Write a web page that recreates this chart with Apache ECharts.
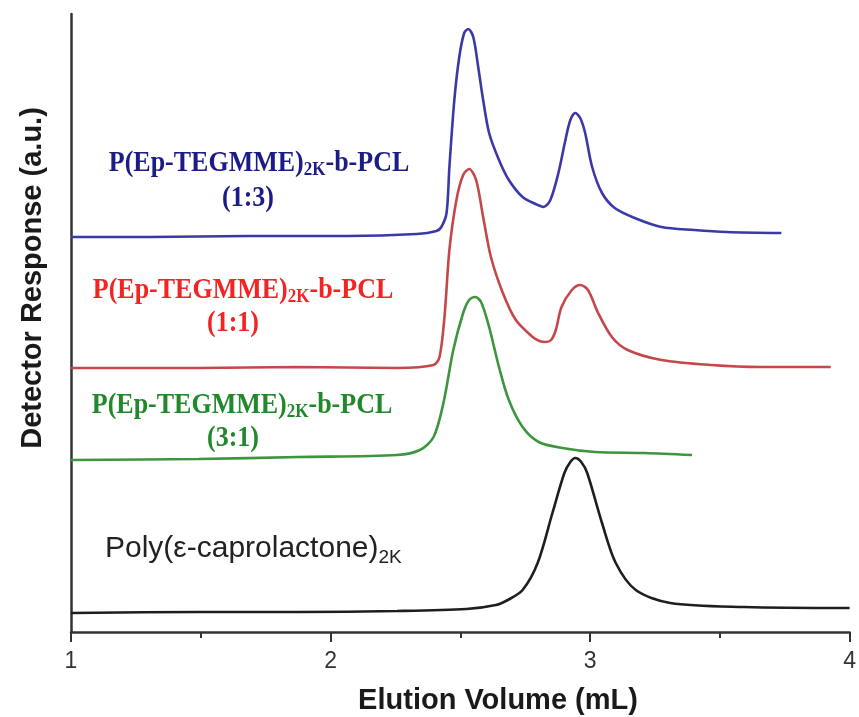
<!DOCTYPE html>
<html>
<head>
<meta charset="utf-8">
<script src="https://cdn.jsdelivr.net/npm/echarts@6/dist/echarts.min.js"></script>
<style>
html,body{margin:0;padding:0;background:#fff;}
#chart{width:859px;height:717px;}
</style>
</head>
<body>
<div id="chart"></div>
<script>
// Elution volume (mL) and detector response (a.u., arbitrary offset units)
const blueX = [1.000,1.302,1.683,2.065,2.332,2.408,2.427,2.447,2.458,2.477,2.496,2.515,2.531,2.550,2.569,2.588,2.611,2.649,2.687,2.740,2.790,2.821,2.847,2.878,2.905,2.924,2.943,2.962,2.981,3.008,3.046,3.095,3.172,3.275,3.401,3.527,3.737];
const blueY = [395,395,396,396,398,401,405,419,465,532,575,599,603,595,565,532,499,472,452,435,428,425,432,459,492,512,519,514,499,465,439,424,414,405,402,400,399];

const redX = [1.000,1.492,1.874,2.256,2.397,2.420,2.439,2.458,2.485,2.511,2.534,2.561,2.588,2.618,2.664,2.714,2.779,2.805,2.828,2.850,2.868,2.890,2.930,2.962,2.992,3.031,3.084,3.145,3.275,3.466,3.656,3.927];
const redY = [264,264,265,264,267,275,315,382,432,457,463,452,415,375,339,312,295,291,290,292,302,325,342,347,342,319,295,282,272,267,265,265];

const greenX = [1.000,1.492,1.874,2.256,2.344,2.397,2.435,2.473,2.511,2.534,2.557,2.580,2.611,2.649,2.687,2.740,2.802,2.893,3.019,3.210,3.393];
const greenY = [172,173,175,177,182,195,229,282,319,332,335,330,305,265,232,205,190,184,180,179,177];

const blackX = [1.000,1.492,1.874,2.256,2.523,2.637,2.683,2.740,2.798,2.855,2.901,2.924,2.943,2.966,2.989,3.046,3.099,3.176,3.309,3.595,4.000];
const blackY = [19,20,20,21,23,27,32,42,69,119,159,170,174,170,159,109,69,42,29,25,24];

const xTicks = [1,2,3,4];

const seriesLabels = [
  {main:'P(Ep-TEGMME)', sub:'2K', tail:'-b-PCL', ratio:'(1:3)', color:'#1c1c86'},
  {main:'P(Ep-TEGMME)', sub:'2K', tail:'-b-PCL', ratio:'(1:1)', color:'#f22424'},
  {main:'P(Ep-TEGMME)', sub:'2K', tail:'-b-PCL', ratio:'(3:1)', color:'#22882c'}
];
const pclLabel = {main:'Poly(\u03b5-caprolactone)', sub:'2K'};

function pairs(xs, ys){ return xs.map((x,i)=>[x, ys[i]]); }

const chart = echarts.init(document.getElementById('chart'), null, {renderer:'canvas'});

function lineSeries(xs, ys, color){
  return {
    type:'line', data:pairs(xs,ys), showSymbol:false, symbol:'none',
    smooth:0.3,
    lineStyle:{color:color, width:2.6}, z:3
  };
}

const serif = "'Liberation Serif','Times New Roman',serif";
const sans = "'Liberation Sans',Arial,sans-serif";

function serifRich(color){
  return {
    m:{fontFamily:serif, fontWeight:'bold', fontSize:26, fill:color, color:color},
    s:{fontFamily:serif, fontWeight:'bold', fontSize:17, fill:color, color:color, padding:[12,0,0,0]}
  };
}

const textPos = [
  {x1:259, y1:163, x2:248, y2:198},
  {x1:243, y1:290, x2:233, y2:323},
  {x1:242, y1:405, x2:233, y2:438}
];

const graphics = [];
seriesLabels.forEach((l,i)=>{
  const p = textPos[i];
  graphics.push({
    type:'text', x:p.x1, y:p.y1, scaleY:1.12, z:10,
    style:{text:'{m|'+l.main+'}{s|'+l.sub+'}{m|'+l.tail+'}', rich:serifRich(l.color),
      textAlign:'center', textVerticalAlign:'middle'}
  });
  graphics.push({
    type:'text', x:p.x2, y:p.y2, scaleY:1.12, z:10,
    style:{text:l.ratio, fontFamily:serif, fontWeight:'bold', fontSize:26, fill:l.color,
      textAlign:'center', textVerticalAlign:'middle'}
  });
});
graphics.push({
  type:'text', x:105, y:549, z:10,
  style:{text:'{m|'+pclLabel.main+'}{s|'+pclLabel.sub+'}',
    rich:{
      m:{fontFamily:sans, fontSize:30, fill:'#222', color:'#222'},
      s:{fontFamily:sans, fontSize:19, fill:'#222', color:'#222', padding:[18,0,0,0]}
    },
    textAlign:'left', textVerticalAlign:'middle'}
});
graphics.push({
  type:'text', x:498, y:701, z:10,
  style:{text:'Elution Volume (mL)', fontFamily:sans, fontWeight:'bold', fontSize:29, fill:'#1a1a1a',
    textAlign:'center', textVerticalAlign:'middle'}
});
graphics.push({
  type:'text', x:33, y:278, rotation:Math.PI/2, z:10,
  style:{text:'Detector Response (a.u.)', fontFamily:sans, fontWeight:'bold', fontSize:29, fill:'#1a1a1a',
    textAlign:'center', textVerticalAlign:'middle'}
});

chart.setOption({
  animation:false,
  backgroundColor:'#fff',
  grid:{left:71, right:2, top:14, bottom:85, containLabel:false},
  xAxis:{
    type:'value', min:1, max:4, interval:1,
    axisLine:{show:true, onZero:false, lineStyle:{color:'#333', width:2.5}},
    axisTick:{show:true, inside:false, length:10, lineStyle:{color:'#333', width:2}},
    minorTick:{show:true, splitNumber:2, length:6, lineStyle:{color:'#333', width:2}},
    axisLabel:{show:true, margin:18, fontSize:23, fontFamily:sans, color:'#333',
      formatter:function(v){ return xTicks.indexOf(v)>=0 ? String(v) : ''; }},
    splitLine:{show:false}
  },
  yAxis:{
    type:'value', min:0, max:618,
    axisLine:{show:true, lineStyle:{color:'#333', width:2.5}},
    axisTick:{show:false}, axisLabel:{show:false}, splitLine:{show:false}
  },
  series:[
    lineSeries(blueX, blueY, '#3939a8'),
    lineSeries(redX, redY, '#c4474a'),
    lineSeries(greenX, greenY, '#3d963f'),
    lineSeries(blackX, blackY, '#1e1e1e')
  ],
  graphic:graphics
});
</script>
</body>
</html>
